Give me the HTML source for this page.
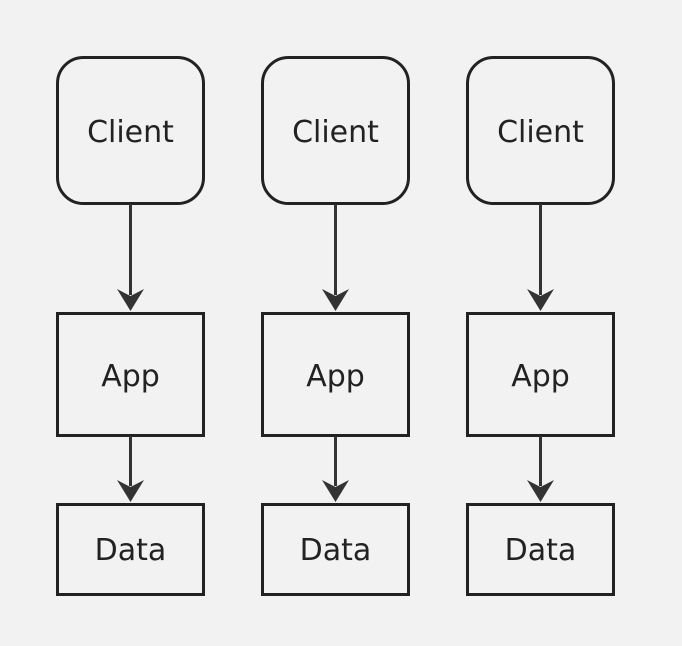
<!DOCTYPE html>
<html><head><style>body{margin:0;background:#f2f2f2}svg{display:block}</style></head><body>
<svg width="682" height="646" xmlns="http://www.w3.org/2000/svg" font-family="'DejaVu Sans','Liberation Sans',sans-serif" font-size="30" fill="#222">
<rect width="682" height="646" fill="#f2f2f2"/>
<g id="c" stroke="#222" stroke-width="3" fill="none">
</g>
<g stroke="#222" stroke-width="3" fill="none">
<rect x="57.5" y="57.5" width="146" height="146" rx="26"/>
<rect x="262.5" y="57.5" width="146" height="146" rx="26"/>
<rect x="467.5" y="57.5" width="146" height="146" rx="26"/>
<rect x="57.5" y="313.5" width="146" height="122"/>
<rect x="262.5" y="313.5" width="146" height="122"/>
<rect x="467.5" y="313.5" width="146" height="122"/>
<rect x="57.5" y="504.5" width="146" height="90"/>
<rect x="262.5" y="504.5" width="146" height="90"/>
<rect x="467.5" y="504.5" width="146" height="90"/>
</g>
<g stroke="#333" stroke-width="3">
<line x1="130.5" y1="204" x2="130.5" y2="295"/><line x1="335.5" y1="204" x2="335.5" y2="295"/><line x1="540.5" y1="204" x2="540.5" y2="295"/>
<line x1="130.5" y1="436" x2="130.5" y2="486"/><line x1="335.5" y1="436" x2="335.5" y2="486"/><line x1="540.5" y1="436" x2="540.5" y2="486"/>
</g>
<g fill="#333">
<path d="M117 289 L130.5 311 L144 289 L130.5 296Z"/><path d="M322 289 L335.5 311 L349 289 L335.5 296Z"/><path d="M527 289 L540.5 311 L554 289 L540.5 296Z"/>
<path d="M117 480 L130.5 502 L144 480 L130.5 487Z"/><path d="M322 480 L335.5 502 L349 480 L335.5 487Z"/><path d="M527 480 L540.5 502 L554 480 L540.5 487Z"/>
</g>
<g text-anchor="middle">
<text x="130.5" y="142">Client</text><text x="335.5" y="142">Client</text><text x="540.5" y="142">Client</text>
<text x="130.5" y="386">App</text><text x="335.5" y="386">App</text><text x="540.5" y="386">App</text>
<text x="130.5" y="560">Data</text><text x="335.5" y="560">Data</text><text x="540.5" y="560">Data</text>
</g>
</svg>
</body></html>
